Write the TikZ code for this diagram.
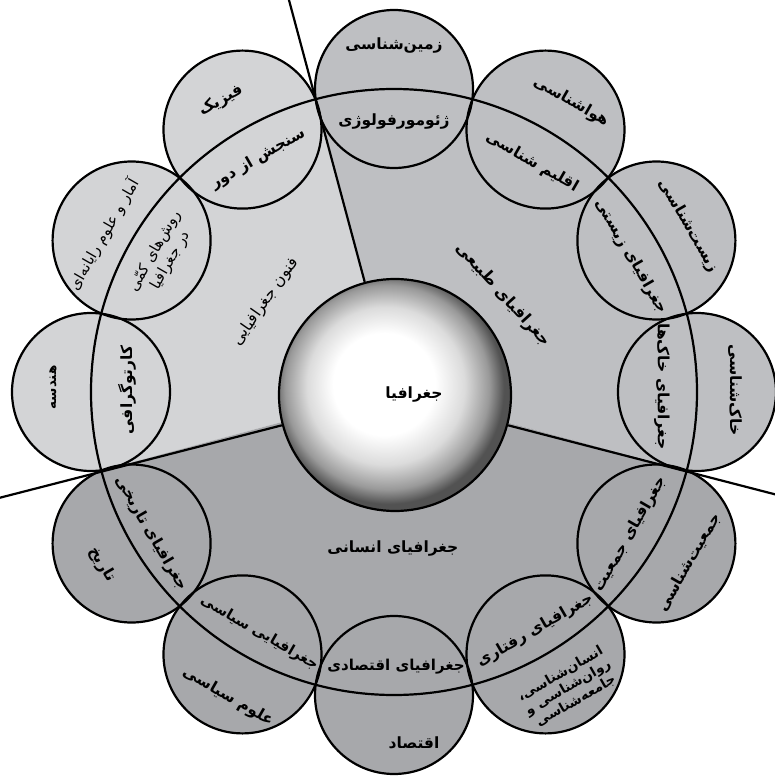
\documentclass[tikz,border=0pt]{standalone}
\usepackage{fontspec}
\newfontfamily\farsi[Script=Arabic]{DejaVu Sans}
\TeXXeTstate=1
\newcommand{\fa}[1]{{\farsi\bfseries\beginR #1\endR}}
\newcommand{\faL}[1]{{\farsi\beginR #1\endR}}
\definecolor{lightg}{RGB}{211,212,214}
\definecolor{midg}{RGB}{190,191,194}
\definecolor{darkg}{RGB}{167,168,171}
\pgfdeclareradialshading{sph}{\pgfpoint{-3bp}{3bp}}{color(0bp)=(white); color(11bp)=(white); color(17bp)=(black!14); color(22bp)=(black!40); color(25bp)=(black!68); color(50bp)=(black!68)}
\begin{document}
\begin{tikzpicture}[x=1pt,y=1pt,
  lbl/.style={font=\fontsize{15.5}{18}\selectfont, inner sep=0pt, align=center},
  sml/.style={font=\fontsize{13.5}{15.5}\selectfont, inner sep=0pt, align=center},
  thin/.style={font=\fontsize{15}{18}\selectfont, inner sep=0pt, align=center},
  ring/.style={circle, draw, line width=2.2pt, minimum size=158pt, inner sep=0pt},
  divider/.style={line width=2.2pt}]
\useasboundingbox (-394,-385) rectangle (381,392);
\clip (-394,-385) rectangle (381,392);
% sector fills
\foreach \a/\b/\c in {-15/105/midg, 105/195/lightg, 195/345/darkg}{
  \begin{scope}
    \clip (0,0) -- (\a:560) arc[start angle=\a, end angle=\b, radius=560] -- cycle;
    \fill[\c] (0,0) circle[radius=303];
    \foreach \t in {0,30,...,330} \fill[\c] (\t:303) circle[radius=79];
  \end{scope}
}
% big circle
\node[circle, draw, line width=2.2pt, minimum size=606pt, inner sep=0pt] (big) at (0,0) {};
% small circles
\foreach \t in {0,30,...,330} \node[ring] (k\t) at (\t:303) {};
% sphere
\node[circle, draw, line width=2.2pt, minimum size=232pt, inner sep=0pt, shading=sph] (sph) at (1,-3) {};
% dividers
\coordinate (e1) at (105:420);
\coordinate (e2) at (195:420);
\coordinate (e3) at (-15:420);
\draw[divider] (sph.105) -- (e1);
\draw[divider] (sph.195) -- (e2);
\draw[divider] (sph.-15) -- (e3);
% labels
\node[lbl] (t90o) at (90:346) {\fa{زمین^^^^200cشناسی}};
\node[lbl] (t90i) at (90:270) {\fa{ژئومورفولوژی}};
\node[lbl, rotate=-30] (t60o) at (58.6:340) {\fa{هواشناسی}};
\node[lbl, rotate=-30] (t60i) at (59:268) {\fa{اقلیم شناسی}};
\node[lbl, rotate=-60] (t30o) at (29.4:338) {\fa{زیست^^^^200cشناسی}};
\node[lbl, rotate=-60] (t30i) at (29.8:273) {\fa{جغرافیای زیستی}};
\node[lbl, rotate=-90] (t0o) at (0.3:341) {\fa{خاک^^^^200cشناسی}};
\node[lbl, rotate=-90] (t0i) at (1.2:268) {\fa{جغرافیای خاک^^^^200cها}};
\node[lbl, rotate=60] (t330o) at (-30:341) {\fa{جمعیت^^^^200cشناسی}};
\node[lbl, rotate=60] (t330i) at (-31:276) {\fa{جغرافیای جمعیت}};
\node[sml, rotate=30] (t300o) at (-59.5:343) {\fa{انسان^^^^200cشناسی،}\\\fa{روان^^^^200cشناسی و}\\\fa{جامعه^^^^200cشناسی}};
\node[lbl, rotate=30] (t300i) at (-59.4:277) {\fa{جغرافیای رفتاری}};
\node[lbl] (t270o) at (20,-351) {\fa{اقتصاد}};
\node[lbl, font=\fontsize{15}{18}\selectfont] (t270i) at (2,-275) {\fa{جغرافیای اقتصادی}};
\node[lbl, rotate=-30] (t240o) at (241.4:347) {\fa{علوم سیاسی}};
\node[lbl, font=\fontsize{14.5}{17}\selectfont, rotate=-30] (t240i) at (240.8:276) {\fa{جغرافیایی سیاسی}};
\node[lbl, rotate=-60] (t210o) at (210.6:339) {\fa{تاریخ}};
\node[lbl, rotate=-60] (t210i) at (210.2:281) {\fa{جغرافیای تاریخی}};
\node[sml, rotate=90] (t180o) at (179.2:341) {\fa{هندسه}};
\node[lbl, rotate=90] (t180i) at (179.6:267) {\fa{کارتوگرافی}};
\node[thin, rotate=60] (t150o) at (151.5:330) {\faL{آمار و علوم رایانه^^^^200cای}};
\node[thin, rotate=60] (t150i) at (149.5:268) {\faL{روش^^^^200cهای کمّی}\\\faL{در جغرافیا}};
\node[lbl, rotate=30] (t120o) at (120.7:339) {\fa{فیزیک}};
\node[lbl, rotate=30] (t120i) at (120.2:270) {\fa{سنجش از دور}};
% sector labels
\node[lbl, font=\fontsize{16}{18}\selectfont, rotate=55] (s1) at (145:157) {\faL{فنون جغرافیایی}};
\node[lbl, font=\fontsize{16}{18}\selectfont, rotate=-48] (s2) at (41.7:146) {\fa{جغرافیای طبیعی}};
\node[lbl] (s3) at (-90.4:157) {\fa{جغرافیای انسانی}};
\node[lbl] (s0) at (20,-3) {\fa{جغرافیا}};
\end{tikzpicture}
\end{document}
